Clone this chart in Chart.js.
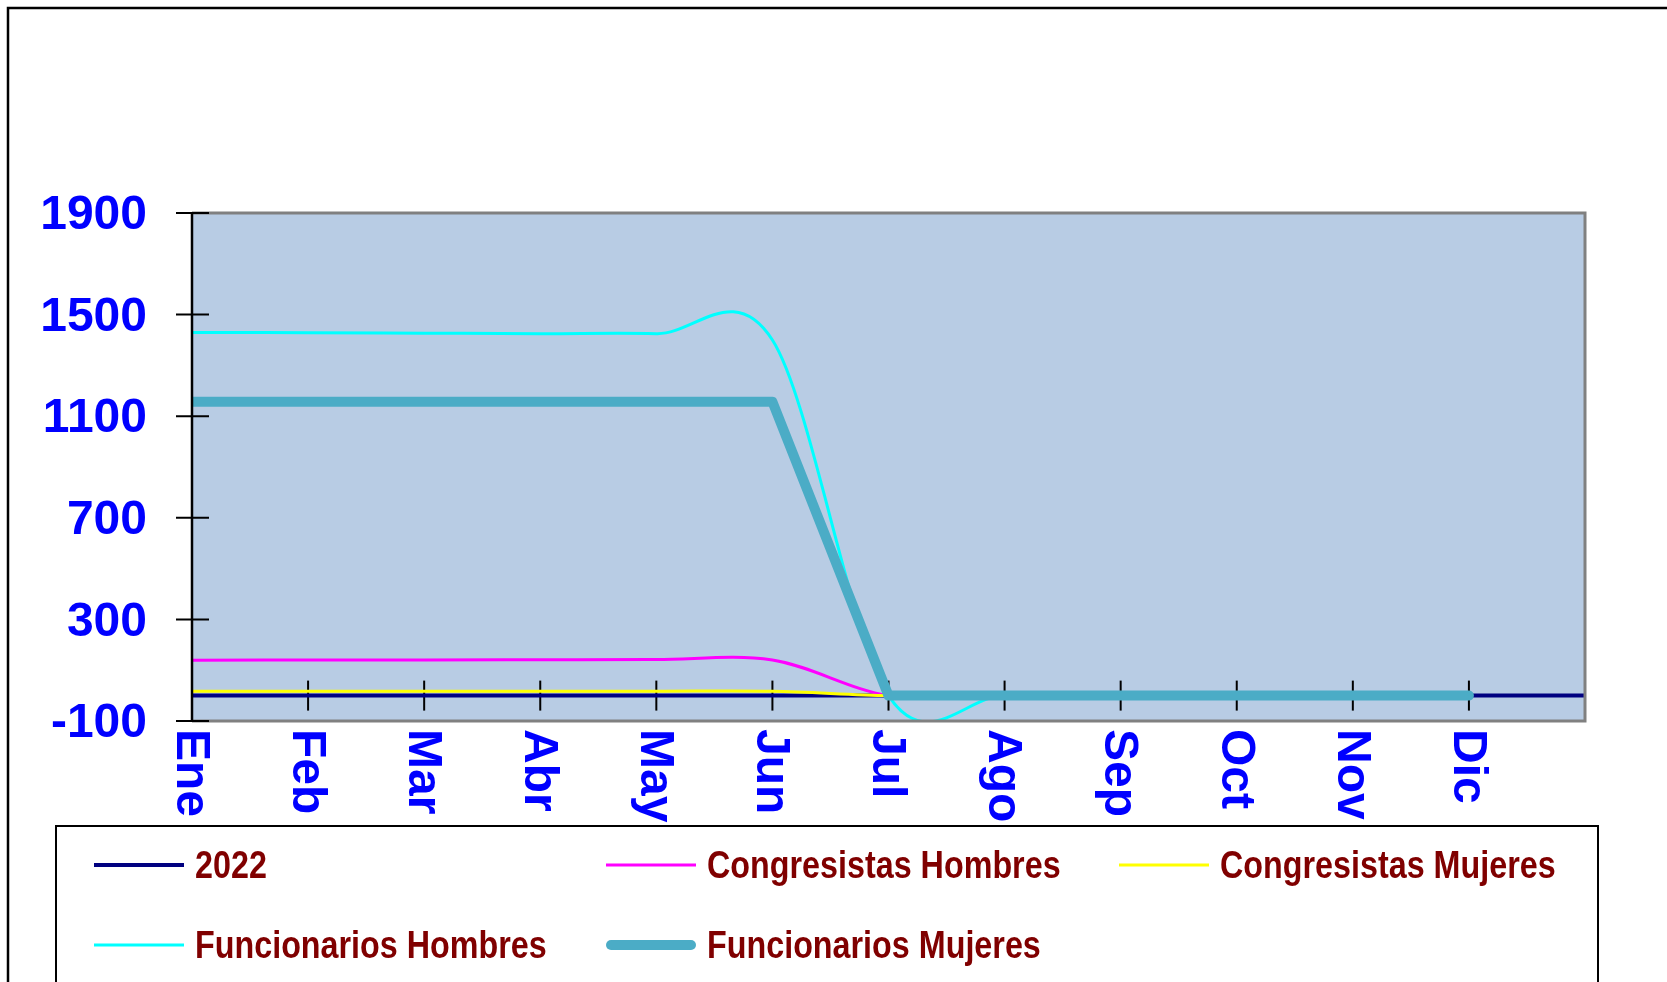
<!DOCTYPE html>
<html>
<head>
<meta charset="utf-8">
<script src="https://cdn.jsdelivr.net/npm/chart.js@4"></script>
<style>
  html, body { margin: 0; padding: 0; background: #fff; }
  canvas { display: block; }
</style>
</head>
<body>
<canvas id="chart" width="1667" height="982"></canvas>
<script>
// meses (the 13th slot is the empty category at the right end of the axis)
const months = ['Ene', 'Feb', 'Mar', 'Abr', 'May', 'Jun', 'Jul', 'Ago', 'Sep', 'Oct', 'Nov', 'Dic', ''];

const serie2022 = [0, 0, 0, 0, 0, 0, 0, 0, 0, 0, 0, 0, 0];
const congresistasHombres = [139, 140, 140, 141, 142, 140, 0, 0, 0, 0, 0, 0];
const congresistasMujeres = [17, 17, 17, 17, 17, 17, 0, 0, 0, 0, 0, 0];
const funcionariosHombres = [1430, 1429, 1427, 1425, 1425, 1400, 0, 0, 0, 0, 0, 0];
const funcionariosMujeres = [1157, 1157, 1157, 1157, 1157, 1157, 0, 0, 0, 0, 0, 0];

const yTicks = { min: -100, max: 1900, step: 400 };

const BLUE = '#0000FF';
const MAROON = '#800000';

// Excel-like smoothing: uniform Catmull-Rom control points (1/6 of neighbour span)
const excelSmooth = {
    id: 'excelSmooth',
    beforeDatasetDraw(chart, args) {
        const meta = args.meta;
        const ds = chart.data.datasets[args.index];
        if (!ds.smooth) return;
        const line = meta.dataset;
        line.updateControlPoints(chart.chartArea, 'x');
        const pts = meta.data;
        for (let i = 0; i < pts.length; i++) {
            const p = pts[i];
            const prev = pts[i - 1] || p;
            const next = pts[i + 1] || p;
            const dx = (next.x - prev.x) / 6;
            const dy = (next.y - prev.y) / 6;
            p.cp1x = p.x - dx;
            p.cp1y = p.y - dy;
            p.cp2x = p.x + dx;
            p.cp2y = p.y + dy;
        }
    }
};

// background, frame, tick marks, rotated month labels and the boxed legend
const excelFrame = {
    id: 'excelFrame',
    beforeDraw(chart) {
        const { ctx, chartArea: a } = chart;
        ctx.save();
        ctx.fillStyle = '#fff';
        ctx.fillRect(0, 0, chart.width, chart.height);
        ctx.strokeStyle = '#000';
        ctx.lineWidth = 2.5;
        ctx.strokeRect(8, 8, chart.width + 40, chart.height + 40);
        ctx.fillStyle = '#B8CCE4';
        ctx.fillRect(a.left, a.top, a.right - a.left, a.bottom - a.top);
        ctx.restore();
    },
    beforeDatasetsDraw(chart) {
        const { ctx, scales: { x, y } } = chart;
        const y0 = y.getPixelForValue(0);
        ctx.save();
        ctx.strokeStyle = '#000';
        ctx.lineWidth = 2;
        for (let i = 1; i < months.length; i++) {
            const px = x.getPixelForValue(i);
            ctx.beginPath();
            ctx.moveTo(px, y0 - 15);
            ctx.lineTo(px, y0 + 15);
            ctx.stroke();
        }
        ctx.restore();
    },
    afterDatasetsDraw(chart) {
        const { ctx, chartArea: a, scales: { y } } = chart;
        ctx.save();
        // plot border
        ctx.strokeStyle = '#808080';
        ctx.lineWidth = 3;
        ctx.beginPath();
        ctx.moveTo(a.left, a.top);
        ctx.lineTo(a.right, a.top);
        ctx.lineTo(a.right, a.bottom);
        ctx.lineTo(a.left, a.bottom);
        ctx.stroke();
        // value axis
        ctx.strokeStyle = '#000';
        ctx.lineWidth = 2.5;
        ctx.beginPath();
        ctx.moveTo(a.left, a.top);
        ctx.lineTo(a.left, a.bottom);
        ctx.stroke();
        ctx.lineWidth = 2;
        y.ticks.forEach((t) => {
            const py = y.getPixelForValue(t.value);
            ctx.beginPath();
            ctx.moveTo(a.left - 16, py);
            ctx.lineTo(a.left + 17, py);
            ctx.stroke();
        });
        ctx.restore();
    },
    afterDraw(chart) {
        const { ctx, chartArea: a, scales: { x } } = chart;
        ctx.save();
        // month labels, rotated clockwise
        ctx.fillStyle = BLUE;
        ctx.font = 'bold 48px "Liberation Sans", Arial, sans-serif';
        ctx.textAlign = 'left';
        ctx.textBaseline = 'middle';
        months.forEach((m, i) => {
            if (!m) return;
            ctx.save();
            ctx.translate(x.getPixelForValue(i), a.bottom + 8);
            ctx.rotate(Math.PI / 2);
            ctx.fillText(m, 0, 2);
            ctx.restore();
        });

        // legend box
        ctx.fillStyle = '#fff';
        ctx.fillRect(56, 826, 1542, 200);
        ctx.strokeStyle = '#000';
        ctx.lineWidth = 2;
        ctx.strokeRect(56, 826, 1542, 200);

        const slots = [[94, 865], [606, 865], [1119, 865], [94, 945], [606, 945]];
        chart.data.datasets.forEach((ds, i) => {
            const [lx, ly] = slots[i];
            const thick = ds.borderWidth > 5;
            ctx.strokeStyle = ds.borderColor;
            ctx.lineWidth = ds.borderWidth;
            ctx.lineCap = thick ? 'round' : 'butt';
            ctx.beginPath();
            ctx.moveTo(lx + (thick ? 5 : 0), ly);
            ctx.lineTo(lx + 90 - (thick ? 5 : 0), ly);
            ctx.stroke();
            ctx.save();
            ctx.translate(lx + 101, ly);
            ctx.scale(0.85, 1);
            ctx.fillStyle = MAROON;
            ctx.font = 'bold 38px "Liberation Sans", Arial, sans-serif';
            ctx.textAlign = 'left';
            ctx.textBaseline = 'middle';
            ctx.fillText(ds.label, 0, 3);
            ctx.restore();
        });
        ctx.restore();
    }
};

const ctx = document.getElementById('chart').getContext('2d');
const chart = new Chart(ctx, {
    type: 'line',
    data: {
        labels: months,
        datasets: [
            {
                label: '2022',
                data: serie2022,
                borderColor: '#000080',
                borderWidth: 4,
                tension: 0,
                order: 5
            },
            {
                label: 'Congresistas Hombres',
                data: congresistasHombres,
                borderColor: '#FF00FF',
                borderWidth: 3,
                tension: 0.4,
                smooth: true,
                order: 4
            },
            {
                label: 'Congresistas Mujeres',
                data: congresistasMujeres,
                borderColor: '#FFFF00',
                borderWidth: 3,
                tension: 0.4,
                smooth: true,
                order: 3
            },
            {
                label: 'Funcionarios Hombres',
                data: funcionariosHombres,
                borderColor: '#00FFFF',
                borderWidth: 3,
                tension: 0.4,
                smooth: true,
                order: 2
            },
            {
                label: 'Funcionarios Mujeres',
                data: funcionariosMujeres,
                borderColor: '#4BACC6',
                borderWidth: 10,
                borderCapStyle: 'round',
                borderJoinStyle: 'round',
                tension: 0,
                clip: { left: 0, top: 5, right: 5, bottom: 5 },
                order: 1
            }
        ]
    },
    options: {
        responsive: false,
        animation: false,
        devicePixelRatio: 1,
        layout: {
            padding: { top: 213, right: 82, bottom: 261, left: 0 }
        },
        elements: {
            point: { radius: 0, hoverRadius: 0 }
        },
        scales: {
            x: {
                ticks: { display: false },
                grid: { display: false },
                border: { display: false },
                afterFit: (s) => { s.height = 0; }
            },
            y: {
                min: yTicks.min,
                max: yTicks.max,
                ticks: {
                    stepSize: yTicks.step,
                    color: BLUE,
                    padding: 45,
                    labelOffset: 3,
                    font: { family: '"Liberation Sans", Arial, sans-serif', size: 48, weight: 'bold' },
                    callback: (v) => String(v)
                },
                grid: { display: false, drawTicks: false },
                border: { display: false },
                afterFit: (s) => { s.width = 192; }
            }
        },
        plugins: {
            legend: { display: false },
            tooltip: { enabled: false }
        }
    },
    plugins: [excelSmooth, excelFrame]
});
</script>
</body>
</html>
